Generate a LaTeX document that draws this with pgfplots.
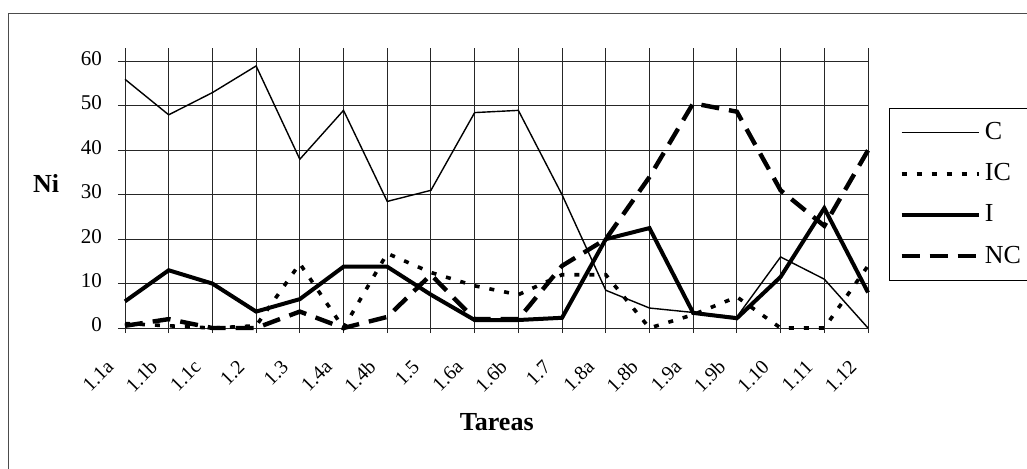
\documentclass[border=0pt]{standalone}
\usepackage{fontspec}
\setmainfont{Liberation Serif}
\usepackage{pgfplots}
\usepackage{pgfplotstable}
\pgfplotsset{compat=1.18}

% x = task index (0 = 1.1a ... 17 = 1.12)
\pgfplotstableread{
x C IC I NC
0 56 1 6 0.5
1 48 0.5 13 2
2 53 0 10 0
3 59 0.5 3.7 0
4 38 14.5 6.5 3.7
5 49 0 13.8 0
6 28.5 16.8 13.8 2.5
7 31 12.5 7.5 12
8 48.5 9.5 1.8 2
9 49 7.5 1.8 2
10 30 12 2.3 14
11 8.5 12 20 20
12 4.5 0 22.5 34
13 3.5 3 3.4 50.6
14 2.5 7 2.2 48.7
15 16 0 11.5 31
16 11 0 27 23
17 0 14 8 40
}\datos

\begin{document}
\begin{tikzpicture}
\path[use as bounding box] (-59pt,-70pt) rectangle (454.5pt,164pt);
\draw[black!70, line width=0.5pt] (-54.5pt,-80pt) -- (-54.5pt,157.5pt) -- (470pt,157.5pt);
\begin{axis}[
  scale only axis, width=375pt, height=140pt,
  at={(0,0)}, anchor=south west,
  xmin=-0.16, xmax=17, ymin=0, ymax=63.04,
  clip=false,
  axis line style={draw=none},
  grid=major, grid style={black!85, line width=0.45pt},
  xtick={0,...,17},
  xticklabels={1.1a,1.1b,1.1c,1.2,1.3,1.4a,1.4b,1.5,1.6a,1.6b,1.7,1.8a,1.8b,1.9a,1.9b,1.10,1.11,1.12},
  ytick={0,10,20,30,40,50,60},
  xtick pos=bottom, ytick pos=left, tick align=outside,
  major tick length=2.5pt,
  xtick style={black!85, line width=0.45pt},
  ytick style={draw=none},
  /pgf/number format/assume math mode=true,
  xticklabel style={font=\fontsize{10}{12}\selectfont, xshift=-5pt, yshift=-13pt, rotate=45, anchor=east},
  yticklabel style={font=\fontsize{10.5}{12}\selectfont, xshift=-2pt, yshift=1.5pt},
  xlabel={\textbf{Tareas}}, ylabel={\textbf{Ni}},
  every axis x label/.style={at={(axis description cs:0.505,-0.336)}, anchor=center, font=\fontsize{13}{15}\selectfont},
  every axis y label/.style={at={(axis description cs:-0.096,0.516)}, anchor=center, font=\fontsize{13}{15}\selectfont},
  legend style={at={(axis description cs:1.028,0.786)}, anchor=north west,
    draw=black, line width=0.5pt, inner xsep=5pt, inner ysep=5pt,
    font=\fontsize{13}{15}\selectfont, row sep=6.5pt,
    cells={anchor=west}},
  legend image code/.code={\draw[#1] (0pt,0pt) -- (38.5pt,0pt);},
]
\addplot[black, line width=0.7pt] table[x=x, y=C] {\datos};
\addlegendentry{\makebox[45pt][l]{C}}
\addplot[black, line width=1.8pt, dash pattern=on 2.5pt off 5pt] table[x=x, y=IC] {\datos};
\addlegendentry{\makebox[45pt][l]{IC}}
\addplot[black, line width=2pt] table[x=x, y=I] {\datos};
\addlegendentry{\makebox[45pt][l]{I}}
\addplot[black, line width=2.2pt, dash pattern=on 9pt off 5pt] table[x=x, y=NC] {\datos};
\addlegendentry{\makebox[45pt][l]{NC}}
\end{axis}
\end{tikzpicture}
\end{document}
